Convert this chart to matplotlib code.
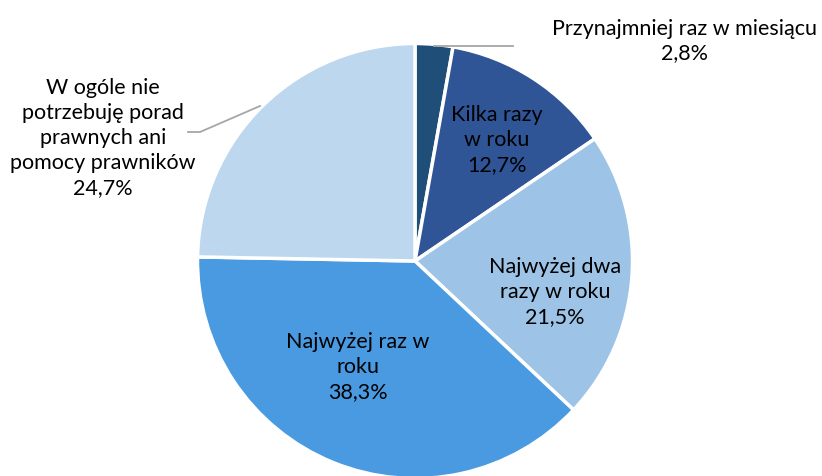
import matplotlib.pyplot as plt

# slices clockwise from 12 o'clock
labels = ["Przynajmniej raz w miesiącu", "Kilka razy\nw roku", "Najwyżej dwa\nrazy w roku",
          "Najwyżej raz w\nroku", "W ogóle nie\npotrzebuję porad\nprawnych ani\npomocy prawników"]
values = [2.8, 12.7, 21.5, 38.3, 24.7]
colors = ["#1F4E79", "#2F5597", "#9DC3E6", "#4A9AE1", "#BDD7EE"]

plt.rcParams['font.family'] = ['Lato', 'DejaVu Sans']

W, H = 822, 477
fig = plt.figure(figsize=(W / 100, H / 100), dpi=100)
ax = fig.add_axes([0, 0, 1, 1])

cx, cy, r = 415, H - 262, 217.5
wedges, _ = ax.pie(values, colors=colors, startangle=90, counterclock=False,
                   center=(cx, cy), radius=r, frame=True,
                   wedgeprops=dict(edgecolor='white', linewidth=2.5))
ax.set_xlim(0, W)
ax.set_ylim(0, H)
ax.set_aspect('equal')
ax.axis('off')

def pct(v):
    return f"{v:.1f}%".replace(".", ",")

# label centres in pixel coords (y from top)
pos = [(685, 41), (497, 140), (555, 292), (358, 367), (103, 138)]
for lab, v, (x, y) in zip(labels, values, pos):
    ax.text(x, H - y, lab + "\n" + pct(v), ha='center', va='center',
            fontsize=15.5, linespacing=1.3, color='black')

# leader lines
ax.plot([434, 513], [H - 46.5, H - 46.5], color='#A6A6A6', lw=1.3)
ax.plot([260, 200, 188], [H - 107, H - 133, H - 133], color='#A6A6A6', lw=1.3)

fig.savefig("out.png", dpi=100)
